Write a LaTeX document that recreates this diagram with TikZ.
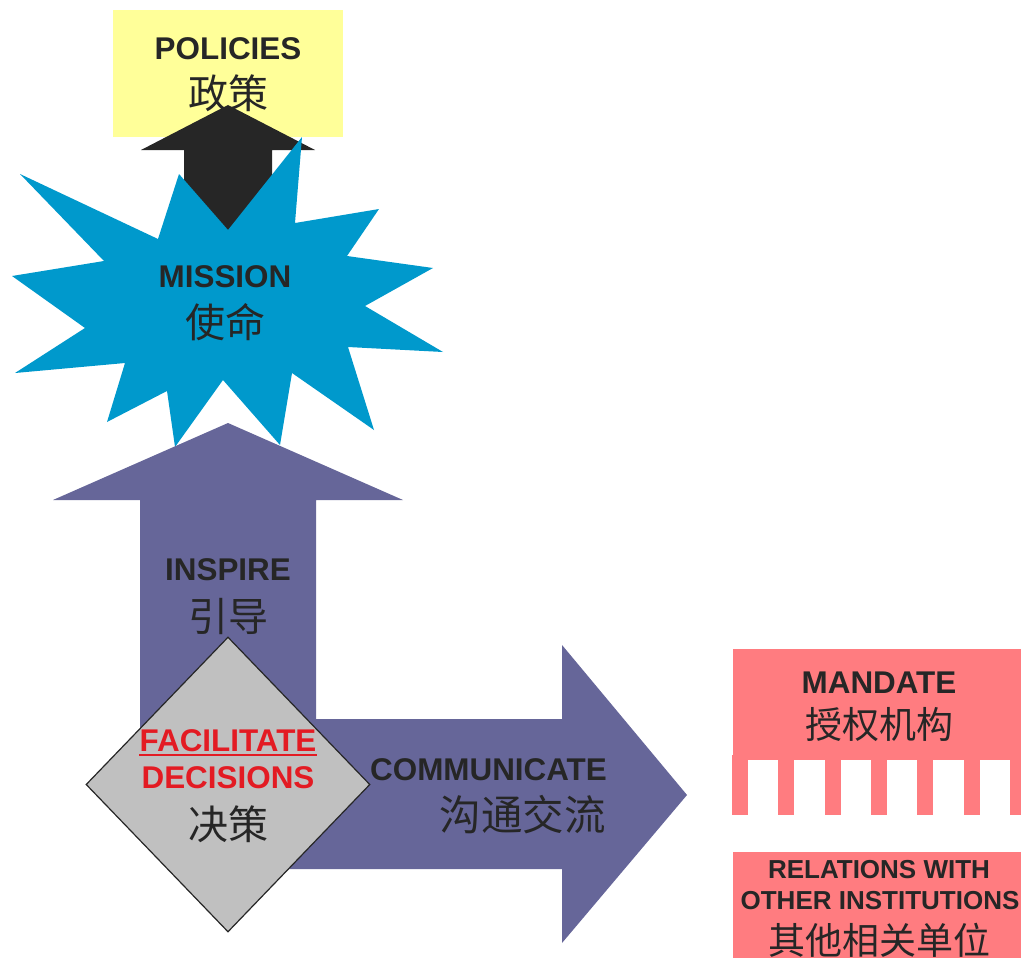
\documentclass[tikz,border=0pt]{standalone}
\usepackage{fontspec}
\setmainfont{Liberation Sans}
\newfontfamily\cjk{Noto Sans CJK SC}
\usepackage{tikz}
\usetikzlibrary{shapes.geometric,backgrounds}
\definecolor{policyyellow}{HTML}{FFFF99}
\definecolor{missionblue}{HTML}{0099CC}
\definecolor{arrowpurple}{HTML}{666699}
\definecolor{mandatepink}{HTML}{FF7C80}
\definecolor{decisiongray}{HTML}{C0C0C0}
\definecolor{textdark}{HTML}{262626}
\definecolor{textred}{HTML}{E31B23}
\newcommand{\ensize}{31.4}
\newcommand{\zhsize}{40}
\newcommand{\toothgap}{46.3}
\tikzset{
  entext/.style={font=\fontsize{\ensize}{36}\selectfont\bfseries, text=textdark, inner sep=0pt},
  zhtext/.style={font=\cjk\fontsize{\zhsize}{44}\selectfont, text=textdark, inner sep=0pt},
  smalltext/.style={font=\fontsize{26}{30}\selectfont\bfseries, text=textdark, inner sep=0pt},
  smallzh/.style={font=\cjk\fontsize{37}{40}\selectfont, text=textdark, inner sep=0pt}
}

\begin{document}
\begin{tikzpicture}[x=1pt, y=-1pt]
\useasboundingbox (0,0) rectangle (1021,958);
%texts
\node[entext] (policies) at (228,49) {POLICIES};
\node[zhtext] (policieszh) at (228,93) {政策};
\node[entext] (mission) at (225,277) {MISSION};
\node[zhtext] (missionzh) at (225,322) {使命};
\node[entext] (inspire) at (228,570) {INSPIRE};
\node[zhtext] (inspirezh) at (228,616) {引导};
\node[entext, anchor=east] (communicate) at (607,770) {COMMUNICATE};
\node[zhtext, font=\cjk\fontsize{41.5}{44}\selectfont, anchor=east] (communicatezh) at (606,815) {沟通交流};
\node[entext] (mandate) at (879,683) {MANDATE};
\node[smallzh] (mandatezh) at (879,725) {授权机构};
\node[smalltext] (relations) at (879,870) {RELATIONS WITH};
\node[smalltext] (others) at (880,901) {OTHER INSTITUTIONS};
\node[smallzh] (relationszh) at (879,940) {其他相关单位};
\node[entext, text=textred] (facilitate) at (228,741) {FACILITATE};
\draw[textred, line width=2pt] ([yshift=-3pt]facilitate.south west) -- ([yshift=-3pt]facilitate.south east);
\node[entext, text=textred] (decisions) at (228,778) {DECISIONS};
\node[zhtext] (decisionszh) at (228,824) {决策};
%shapes
\begin{scope}[on background layer]
\fill[policyyellow] (113,10) rectangle (343,137);
\fill[textdark] (228,105) -- (315,150) -- (272,150) -- (272,245) -- (184,245) -- (184,150) -- (141,150) -- cycle;
\fill[missionblue] (302,137) -- (295,223) -- (379,209) -- (347,256) -- (433,268) -- (365,306) -- (443,352) -- (348,347) -- (374,430) -- (292,373) -- (280,445) -- (223,380) -- (175,447) -- (167,391) -- (107,422) -- (125,363) -- (15,373) -- (85,328) -- (12,276) -- (104,261) -- (20,174) -- (158,239) -- (179,174) -- (228,230) -- cycle;
\fill[arrowpurple] (228,423) -- (403,500) -- (316,500) -- (316,719) -- (562,719) -- (562,645) -- (687,795) -- (562,943) -- (562,869) -- (200,869) -- (140,780) -- (140,500) -- (53,500) -- cycle;
\end{scope}
%diamond
\begin{scope}[on background layer]
\node[diamond, draw=textdark, line width=1.2pt, fill=decisiongray, minimum width=284pt, minimum height=295pt, inner sep=0pt] (decide) at (228,784.5) {};
\end{scope}
%mandate
\begin{scope}[on background layer]
\fill[mandatepink] (733,649) rectangle (1021,760);
\foreach \i in {0,...,6}
  \fill[mandatepink] (732+\toothgap*\i,755) rectangle ++(16,60);
\fill[mandatepink] (733,852) rectangle (1021,958);
\end{scope}
\end{tikzpicture}
\end{document}
